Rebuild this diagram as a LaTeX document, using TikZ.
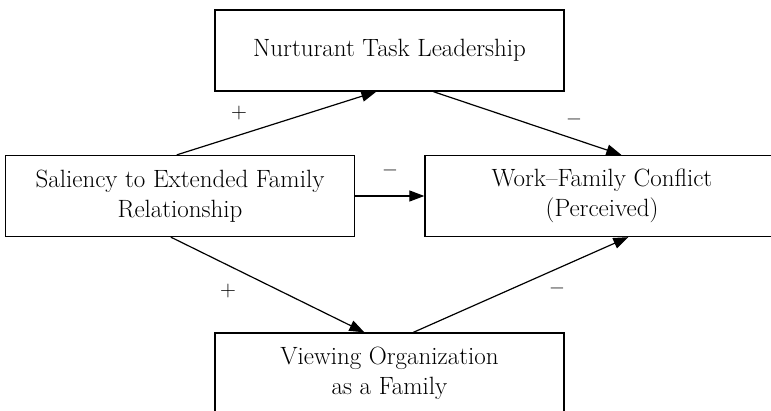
\documentclass[tikz,border=0pt]{standalone}
\usetikzlibrary{arrows.meta,calc}
\begin{document}
\begin{tikzpicture}[x=1pt,y=-1pt,
  box/.style={draw,line width=1.3pt,minimum width=349pt,minimum height=81pt,align=center,inner sep=0pt,
    font=\fontsize{25}{30}\selectfont},
  conn/.style={line width=1.2pt,-{Triangle[length=15pt,width=11pt]}},
  sign/.style={font=\fontsize{22}{26}\selectfont,inner sep=0pt}]
\useasboundingbox (0,0) rectangle (771,411);
\clip (0,0) rectangle (771,411);
\node[box] (top) at (389.5,50.5) {Nurturant Task Leadership};
\node[box] (left) at (180,196) {Saliency to Extended Family\\Relationship};
\node[box,minimum width=354pt] (right) at (602,196) {Work--Family Conflict\\(Perceived)};
\node[box] (bot) at (389.5,373.5) {Viewing Organization\\as a Family};
\coordinate (a1) at ($(left.north west)+(172,0)$);
\coordinate (a2) at ($(top.south west)+(162,0)$);
\coordinate (b1) at ($(top.south west)+(219,0)$);
\coordinate (b2) at ($(right.north west)+(197,0)$);
\coordinate (c1) at ($(left.south west)+(166,0)$);
\coordinate (c2) at ($(bot.north west)+(150,0)$);
\coordinate (d1) at ($(bot.north west)+(199,0)$);
\coordinate (d2) at ($(right.south west)+(204,0)$);
\draw[conn] (a1) -- (a2);
\draw[conn] (b1) -- (b2);
\draw[conn] (left.east) -- (right.west);
\draw[conn] (c1) -- (c2);
\draw[conn] (d1) -- (d2);
\node[sign] (s1) at (239,113) {+};
\node[sign] (s2) at (574,122) {\bfseries --};
\node[sign] (s3) at (390,173) {\bfseries --};
\node[sign] (s4) at (228,291) {+};
\node[sign] (s5) at (557,291) {\bfseries --};
\end{tikzpicture}
\end{document}
